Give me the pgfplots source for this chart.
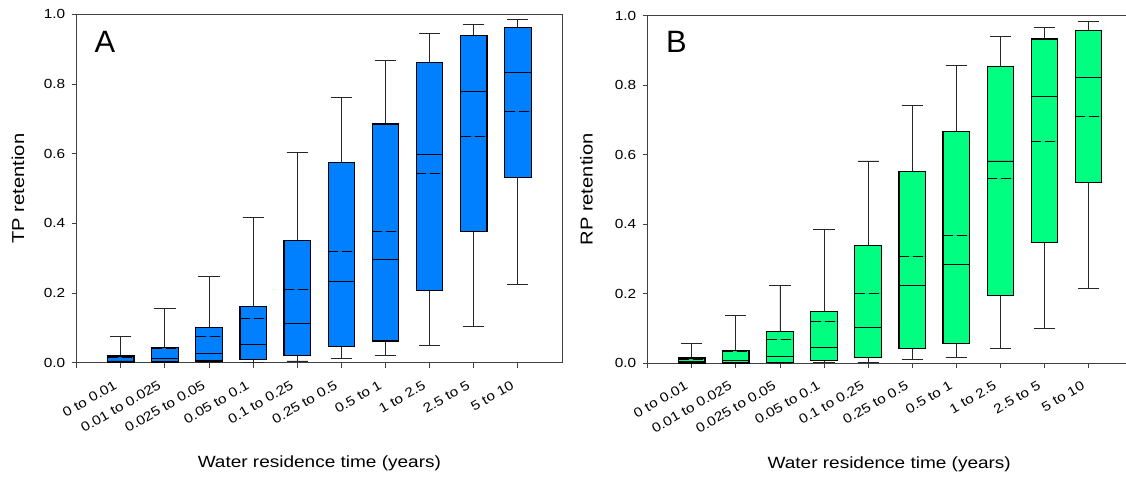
\documentclass[border=0pt]{standalone}
\usepackage{fontspec}
\setmainfont{Liberation Sans}[FakeStretch=1.17]
\newfontfamily\panelfont{Liberation Sans}
\usepackage{pgfplots}
\pgfplotsset{compat=1.18}
\usepgfplotslibrary{statistics}
\definecolor{boxblue}{RGB}{0,128,255}
\definecolor{boxgreen}{RGB}{0,255,128}
\pgfplotsset{
  common/.style={
    scale only axis,
    anchor=south west,
    xmin=0, ymin=0, ymax=1,
    xtick={0,1,2,3,4,5,6,7,8,9,10},
    xticklabels={,0 to 0.01,0.01 to 0.025,0.025 to 0.05,0.05 to 0.1,0.1 to 0.25,0.25 to 0.5,0.5 to 1,1 to 2.5,2.5 to 5,5 to 10},
    ytick={0,0.2,0.4,0.6,0.8,1},
    xtick pos=left, ytick pos=left,
    tick align=outside,
    major tick length=5bp,
    axis line style={black!75, line width=0.9bp},
    tick style={black!75, line width=0.9bp},
    /pgf/number format/assume math mode=true,
    tick label style={font=\fontsize{13.2}{14}\selectfont},
    yticklabel style={xshift=-3bp, /pgf/number format/.cd, fixed, fixed zerofill, precision=1},
    xticklabel style={xshift=-7bp, yshift=-10bp, rotate=30, anchor=north east, inner sep=1.5bp},
    label style={font=\fontsize{16.3}{18}\selectfont},
    boxplot/draw direction=y,
    boxplot/box extend=0.6,
    boxplot/whisker extend=0.48,
    boxplot/every box/.style={draw=black, line width=1.2bp},
    boxplot/every whisker/.style={black!85, line width=0.9bp},
    boxplot/every median/.style={black, line width=0.9bp},
    boxplot/draw/average/.code={\draw[black, line width=0.9bp, dash pattern=on 10bp off 4bp] (boxplot box cs:\pgfplotsboxplotvalue{average},0) -- (boxplot box cs:\pgfplotsboxplotvalue{average},1);},
  },
}
\begin{document}
\begin{tikzpicture}
\useasboundingbox (0,0) rectangle (1126bp,480bp);
% ---------------- Panel A ----------------
\begin{axis}[common,
  at={(76.7bp,117.3bp)}, width=485.3bp, height=348.4bp, xmax=11,
  xlabel={Water residence time (years)},
  ylabel={TP retention},
  xlabel style={at={(axis description cs:0.5,-0.302)}, anchor=base},
  ylabel style={at={(axis description cs:-0.121,0.5)}, anchor=center, font=\fontsize{17.3}{19}\selectfont},
]
\addplot[fill=boxblue, draw=black, boxplot prepared={draw position=1, lower whisker=0, lower quartile=0.002, median=0.005, upper quartile=0.019, upper whisker=0.076, average=0.015}] coordinates {};
\addplot[fill=boxblue, draw=black, boxplot prepared={draw position=2, lower whisker=0, lower quartile=0.002, median=0.013, upper quartile=0.044, upper whisker=0.155, average=0.04}] coordinates {};
\addplot[fill=boxblue, draw=black, boxplot prepared={draw position=3, lower whisker=0, lower quartile=0.005, median=0.027, upper quartile=0.100, upper whisker=0.248, average=0.076}] coordinates {};
\addplot[fill=boxblue, draw=black, boxplot prepared={draw position=4, lower whisker=0.002, lower quartile=0.010, median=0.053, upper quartile=0.161, upper whisker=0.418, average=0.128}] coordinates {};
\addplot[fill=boxblue, draw=black, boxplot prepared={draw position=5, lower whisker=0.005, lower quartile=0.020, median=0.113, upper quartile=0.351, upper whisker=0.604, average=0.211}] coordinates {};
\addplot[fill=boxblue, draw=black, boxplot prepared={draw position=6, lower whisker=0.012, lower quartile=0.046, median=0.234, upper quartile=0.575, upper whisker=0.760, average=0.320}] coordinates {};
\addplot[fill=boxblue, draw=black, boxplot prepared={draw position=7, lower whisker=0.020, lower quartile=0.062, median=0.295, upper quartile=0.685, upper whisker=0.868, average=0.378}] coordinates {};
\addplot[fill=boxblue, draw=black, boxplot prepared={draw position=8, lower whisker=0.050, lower quartile=0.207, median=0.598, upper quartile=0.862, upper whisker=0.944, average=0.542}] coordinates {};
\addplot[fill=boxblue, draw=black, boxplot prepared={draw position=9, lower whisker=0.103, lower quartile=0.377, median=0.778, upper quartile=0.938, upper whisker=0.971, average=0.649}] coordinates {};
\addplot[fill=boxblue, draw=black, boxplot prepared={draw position=10, lower whisker=0.225, lower quartile=0.532, median=0.834, upper quartile=0.961, upper whisker=0.984, average=0.720}] coordinates {};
\node[anchor=base west, inner sep=0pt, font=\panelfont\fontsize{31}{33}\selectfont] at (rel axis cs:0.0363,0.891) {A};
\end{axis}
% ---------------- Panel B ----------------
\begin{axis}[common,
  at={(647.7bp,116.7bp)}, width=478.3bp, height=347.6bp, xmax=10.85,
  axis lines*=left, tick align=outside,
  xlabel={Water residence time (years)},
  ylabel={RP retention},
  xlabel style={at={(axis description cs:0.505,-0.303)}, anchor=base},
  ylabel style={at={(axis description cs:-0.128,0.5)}, anchor=center, font=\fontsize{17.3}{19}\selectfont},
]
\draw[black!75, line width=0.9bp] (rel axis cs:0,1) -- (rel axis cs:1,1);
\addplot[fill=boxgreen, draw=black, boxplot prepared={draw position=1, lower whisker=0, lower quartile=0.001, median=0.005, upper quartile=0.015, upper whisker=0.058, average=0.012}] coordinates {};
\addplot[fill=boxgreen, draw=black, boxplot prepared={draw position=2, lower whisker=0, lower quartile=0.001, median=0.009, upper quartile=0.036, upper whisker=0.138, average=0.033}] coordinates {};
\addplot[fill=boxgreen, draw=black, boxplot prepared={draw position=3, lower whisker=0, lower quartile=0.003, median=0.020, upper quartile=0.092, upper whisker=0.223, average=0.068}] coordinates {};
\addplot[fill=boxgreen, draw=black, boxplot prepared={draw position=4, lower whisker=0.002, lower quartile=0.008, median=0.046, upper quartile=0.148, upper whisker=0.384, average=0.119}] coordinates {};
\addplot[fill=boxgreen, draw=black, boxplot prepared={draw position=5, lower whisker=0.003, lower quartile=0.017, median=0.102, upper quartile=0.338, upper whisker=0.582, average=0.200}] coordinates {};
\addplot[fill=boxgreen, draw=black, boxplot prepared={draw position=6, lower whisker=0.010, lower quartile=0.042, median=0.223, upper quartile=0.551, upper whisker=0.741, average=0.308}] coordinates {};
\addplot[fill=boxgreen, draw=black, boxplot prepared={draw position=7, lower whisker=0.017, lower quartile=0.058, median=0.283, upper quartile=0.667, upper whisker=0.856, average=0.367}] coordinates {};
\addplot[fill=boxgreen, draw=black, boxplot prepared={draw position=8, lower whisker=0.044, lower quartile=0.196, median=0.582, upper quartile=0.853, upper whisker=0.940, average=0.532}] coordinates {};
\addplot[fill=boxgreen, draw=black, boxplot prepared={draw position=9, lower whisker=0.099, lower quartile=0.348, median=0.768, upper quartile=0.933, upper whisker=0.967, average=0.639}] coordinates {};
\addplot[fill=boxgreen, draw=black, boxplot prepared={draw position=10, lower whisker=0.215, lower quartile=0.519, median=0.822, upper quartile=0.958, upper whisker=0.983, average=0.711}] coordinates {};
\node[anchor=base west, inner sep=0pt, font=\panelfont\fontsize{31}{33}\selectfont] at (rel axis cs:0.0383,0.895) {B};
\end{axis}
\end{tikzpicture}
\end{document}
